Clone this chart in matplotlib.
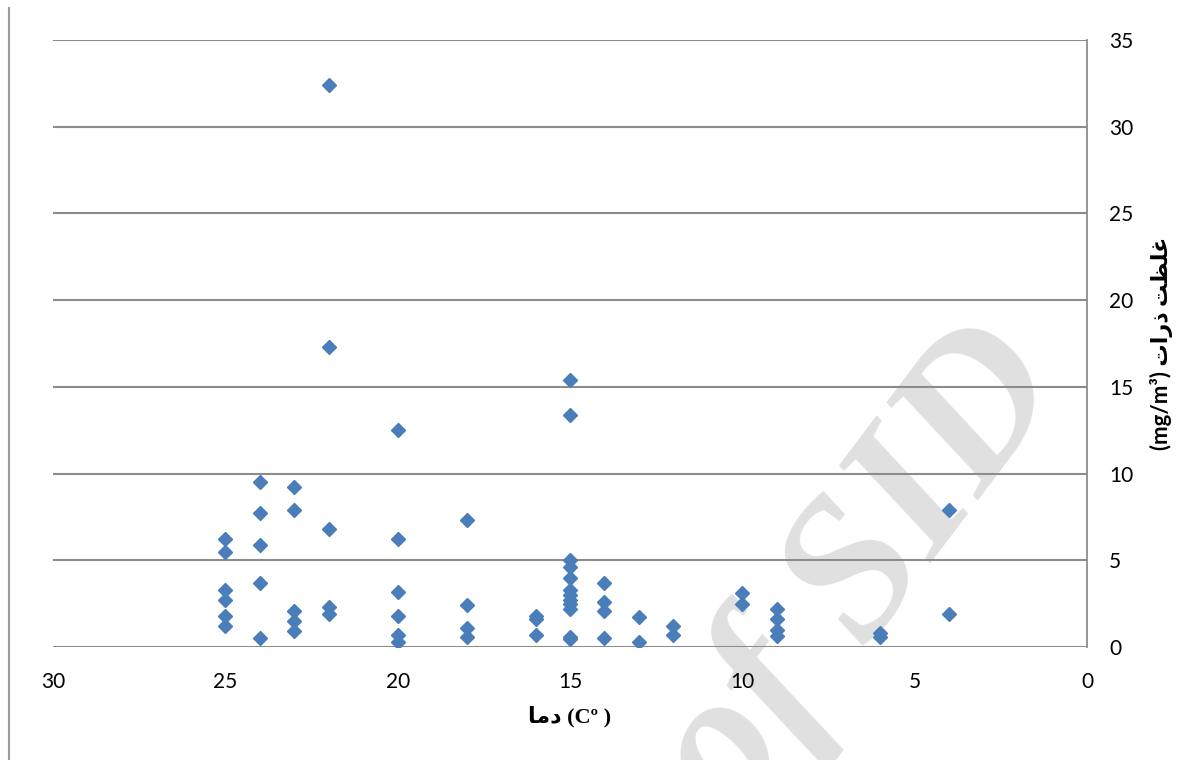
import matplotlib
matplotlib.use('Agg')
import matplotlib.pyplot as plt
from matplotlib.lines import Line2D

# temperature (C) and particle concentration (mg/m3)
temp = [25, 25, 25, 25, 25, 25,
        24, 24, 24, 24, 24,
        23, 23, 23, 23, 23,
        22, 22, 22, 22, 22,
        20, 20, 20, 20, 20, 20,
        18, 18, 18, 18,
        16, 16, 16,
        15, 15, 15, 15, 15, 15, 15, 15, 15, 15, 15, 15,
        14, 14, 14, 14,
        13, 13,
        12, 12,
        10, 10,
        9, 9, 9, 9,
        6, 6,
        4, 4]
conc = [6.2, 5.5, 3.3, 2.7, 1.8, 1.2,
        9.5, 7.7, 5.9, 3.7, 0.5,
        9.2, 7.9, 2.1, 1.5, 0.9,
        32.4, 17.3, 6.8, 2.3, 1.9,
        12.5, 6.2, 3.2, 1.8, 0.7, 0.3,
        7.3, 2.4, 1.1, 0.6,
        1.8, 1.6, 0.7,
        15.4, 13.4, 5.0, 4.6, 4.0, 3.3, 3.0, 2.7, 2.5, 2.2, 0.6, 0.45,
        3.7, 2.6, 2.1, 0.5,
        1.75, 0.3,
        1.2, 0.7,
        3.1, 2.5,
        2.2, 1.6, 1.0, 0.65,
        0.8, 0.55,
        7.9, 1.9]

xticks = [30, 25, 20, 15, 10, 5, 0]
yticks = [0, 5, 10, 15, 20, 25, 30, 35]

# arabic labels written in presentation forms, visual order
xlab = '\uFE8E\uFEE3\uFEA9 (C\u00BA )'
ylab = '(mg/m\u00B3) \uFE95\uFE8D\uFEAD\uFEAB \uFE96\uFEC8\uFEE0\uFECF'

fig = plt.figure(figsize=(12, 7.6), dpi=100)
ax = fig.add_axes([53/1200, 113/760, 1034/1200, 607/760])
ax.set_facecolor('none')

# watermark, under the markers
ax.text(0.717, 0.245, 'of SID', rotation=53, fontsize=145, color='#e0e0e0',
        family=['Liberation Serif', 'DejaVu Serif'], style='italic',
        fontweight='bold', ha='center', va='center', zorder=0.2,
        transform=fig.transFigure, clip_on=False)

ax.plot(temp, conc, linestyle='none', marker='D', markersize=7.6,
        color='#4a7ebb', zorder=3)

ax.set_xlim(30, 0)
ax.set_ylim(0, 35)
ax.set_xticks(xticks)
ax.set_yticks(yticks)
ax.set_axisbelow(True)
ax.grid(axis='y', color='#8c8c8c', linewidth=1.5)

for s in ['left', 'top', 'bottom']:
    ax.spines[s].set_visible(False)
ax.spines['right'].set_color('#8c8c8c')
ax.spines['right'].set_linewidth(1.3)

ax.yaxis.tick_right()
ax.yaxis.set_label_position('right')
ax.tick_params(length=0, labelsize=15)
ax.tick_params(axis='x', pad=18)
ax.tick_params(axis='y', pad=16)
for lbl in ax.get_xticklabels() + ax.get_yticklabels():
    lbl.set_family(['Lato', 'DejaVu Sans'])

ax.set_xlabel(xlab, fontsize=16, fontweight='bold',
              family=['Liberation Serif', 'DejaVu Sans'], labelpad=10)
ax.set_ylabel(ylab, fontsize=16, fontweight='bold',
              family=['Lato', 'DejaVu Sans'], rotation=90, labelpad=12)

# page border at the left edge
fig.add_artist(Line2D([9/1200, 9/1200], [0, 752/760], color='#9a9a9a', linewidth=1.5))

fig.savefig('out.png', dpi=100)
